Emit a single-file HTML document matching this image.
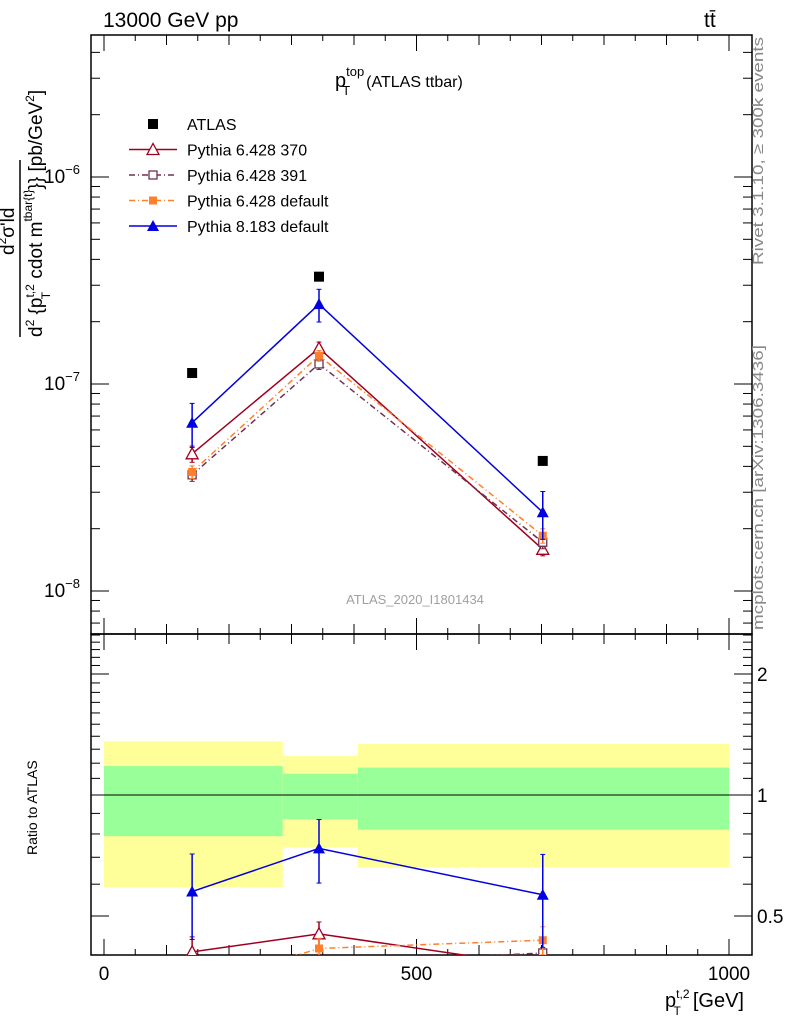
<!DOCTYPE html>
<html><head><meta charset="utf-8"><style>
body{margin:0;background:#fff;}
svg{font-family:"Liberation Sans",sans-serif;}
text{white-space:pre;}
</style></head><body>
<svg id="c" width="786" height="1024" viewBox="0 0 786 1024" xmlns="http://www.w3.org/2000/svg">
<defs>
<clipPath id="mainclip"><rect x="91" y="35" width="661" height="599"/></clipPath>
<clipPath id="ratioclip"><rect x="91" y="634" width="661" height="321"/></clipPath>
</defs>
<g id="bands" clip-path="url(#ratioclip)"></g>
<g id="frames"></g>
<g id="marks"></g>
<text x="103" y="27" font-size="21">13000 GeV pp</text>
<text x="704" y="27" font-size="21">tt̄</text>
<text x="335" y="87" font-size="20">p<tspan font-size="13" dy="-11">top</tspan><tspan font-size="13" dx="-22" dy="19">T</tspan><tspan font-size="16" dx="16" dy="-8">(ATLAS ttbar)</tspan></text>
<text x="415" y="604" font-size="13" fill="#a0a0a0" text-anchor="middle">ATLAS_2020_I1801434</text>
<text transform="translate(763,265) rotate(-90)" font-size="15" fill="#888" textLength="228" lengthAdjust="spacingAndGlyphs">Rivet 3.1.10, ≥ 300k events</text>
<text transform="translate(763,630) rotate(-90)" font-size="15" fill="#888" textLength="285" lengthAdjust="spacingAndGlyphs">mcplots.cern.ch [arXiv:1306.3436]</text>
<g>
<line x1="20" y1="337" x2="20" y2="160" stroke="#000" stroke-width="1.5"/>
<text transform="translate(14,255) rotate(-90)" font-size="19">d<tspan font-size="12" dy="-8">2</tspan><tspan dy="8">σ'ld</tspan></text>
<text transform="translate(42,337) rotate(-90)" font-size="19">d<tspan font-size="12" dy="-8">2</tspan><tspan dy="8"> {p</tspan><tspan font-size="12" dy="-8">t,2</tspan><tspan font-size="12" dx="-15" dy="16">T</tspan><tspan dx="8" dy="-8"> cdot m</tspan><tspan font-size="12" dy="-10">tbar{t}</tspan><tspan dy="10">}} [pb/GeV</tspan><tspan font-size="12" dy="-8">2</tspan><tspan dy="8">]</tspan></text>
</g>
<text transform="translate(37,855) rotate(-90)" font-size="14">Ratio to ATLAS</text>
<text x="744" y="1007" font-size="20" text-anchor="end">p<tspan font-size="12" dy="-9">t,2</tspan><tspan font-size="12" dx="-16" dy="17">T</tspan><tspan dx="12" dy="-8">[GeV]</tspan></text>
<g id="legend"></g>
</svg>
<script>
const binEdges=[0,286,406,1000];
const xCenters=[141,344,702];
const atlas=[1.13e-7,3.3e-7,4.25e-8];
const p6_370=[4.6e-8,1.49e-7,1.59e-8];
const p6_370err=[0.09,0.07,0.07];
const p6_391=[3.64e-8,1.25e-7,1.72e-8];
const p6_391err=[0.07,0.06,0.07];
const p6_def=[3.76e-8,1.37e-7,1.85e-8];
const p6_deferr=[0.07,0.06,0.08];
const p8=[6.5e-8,2.43e-7,2.4e-8];
const p8err=[0.24,0.18,0.26];
const yellowHi=[1.36,1.25,1.34];
const yellowLo=[0.59,0.74,0.66];
const greenHi=[1.18,1.13,1.17];
const greenLo=[0.79,0.87,0.82];
const xTicks=[0,500,1000];
const mainTicks=["10","10","10"];
const mainTickExp=[-6,-7,-8];
const ratioTicks=[2,1,0.5];

const NS="http://www.w3.org/2000/svg";
const X=v=>104+v*0.625;
const Y=v=>384-(Math.log10(v)+7)*207;
const R=v=>795-Math.log10(v)*402;
function mk(tag,attrs,parent){const e=document.createElementNS(NS,tag);for(const k in attrs)e.setAttribute(k,attrs[k]);parent.appendChild(e);return e;}
const svg=document.getElementById('c');
const bands=document.getElementById('bands'),frames=document.getElementById('frames'),marks=document.getElementById('marks'),legend=document.getElementById('legend');

for(let i=0;i<3;i++){
 const x0=X(binEdges[i]),x1=X(binEdges[i+1]);
 let r=mk('rect',{x:x0,y:R(yellowHi[i]),width:x1-x0,height:R(yellowLo[i])-R(yellowHi[i]),fill:'#ffff99'},bands);
 
 
 r=mk('rect',{x:x0,y:R(greenHi[i]),width:x1-x0,height:R(greenLo[i])-R(greenHi[i]),fill:'#99ff99'},bands);
 
 
}
let ln=mk('line',{x1:91,x2:752,y1:R(1),y2:R(1),stroke:'#000','stroke-width':1},bands);



[[35,634],[634,955]].forEach(([t,b],pi)=>{
 const f=mk('rect',{x:91,y:t,width:661,height:b-t,fill:'none',stroke:'#000','stroke-width':1.5},frames);
 
 
 for(let v=0;v<=1000;v+=50){
  const L=(v%500==0)?16:(v%100==0?10:6);
  mk('line',{x1:X(v),x2:X(v),y1:b,y2:b-L,stroke:'#000','stroke-width':1},frames);
  mk('line',{x1:X(v),x2:X(v),y1:t,y2:t+L,stroke:'#000','stroke-width':1},frames);
 }
});
xTicks.forEach(v=>{const t=mk('text',{x:X(v),y:980,'font-size':19,'text-anchor':'middle'},frames);t.textContent=v;
 
 });
for(let d=-9;d<=-5;d++)for(let m=1;m<10;m++){
 const y=Y(m*Math.pow(10,d));if(y<35||y>634)continue;
 const L=m==1?18:9;
 mk('line',{x1:91,x2:91+L,y1:y,y2:y,stroke:'#000'},frames);
 mk('line',{x1:752,x2:752-L,y1:y,y2:y,stroke:'#000'},frames);
}
mainTickExp.forEach((e,i)=>{const t=mk('text',{x:80,y:Y(Math.pow(10,e))+6,'font-size':19,'text-anchor':'end'},frames);
 t.innerHTML=mainTicks[i]+'<tspan font-size="13" dy="-9">−'+(-e)+'</tspan>';
 
 });
for(let v=0.4;v<2.6;v+=0.1){const y=R(v);if(y<634||y>955)continue;
 const major=Math.abs(v-1)<1e-6||Math.abs(v-2)<1e-6||Math.abs(v-0.5)<1e-6;const L=major?18:9;
 mk('line',{x1:91,x2:91+L,y1:y,y2:y,stroke:'#000'},frames);
 mk('line',{x1:752,x2:752-L,y1:y,y2:y,stroke:'#000'},frames);}
ratioTicks.forEach(v=>{const t=mk('text',{x:757,y:R(v)+7,'font-size':19},frames);t.textContent=v;
 
 });

function marker(g,type,x,y,col,s){
 if(type=='sq')mk('rect',{x:x-s,y:y-s,width:2*s,height:2*s,fill:col},g);
 else if(type=='osq')mk('rect',{x:x-s,y:y-s,width:2*s,height:2*s,fill:'#fff',stroke:col,'stroke-width':1.3},g);
 else if(type=='otri')mk('polygon',{points:`${x},${y-s-1} ${x-s-1},${y+s} ${x+s+1},${y+s}`,fill:'#fff',stroke:col,'stroke-width':1.3},g);
 else mk('polygon',{points:`${x},${y-s-1} ${x-s-1},${y+s} ${x+s+1},${y+s}`,fill:col},g);
}
const series=[
 {name:'p6-370',vals:p6_370,err:p6_370err,col:'#a00020',dash:'',m:'otri'},
 {name:'p6-391',vals:p6_391,err:p6_391err,col:'#703050',dash:'6,3,1,3',m:'osq'},
 {name:'p6-default',vals:p6_def,err:p6_deferr,col:'#ff7f2a',dash:'6,3,1,3',m:'sq'},
 {name:'p8-default',vals:p8,err:p8err,col:'#0000e0',dash:'',m:'tri'}];
[['main',Y,'mainclip'],['ratio',R,'ratioclip']].forEach(([pn,YF,clip])=>{
 const isR=pn=='ratio';
 series.forEach(s=>{
  const g=mk('g',{'clip-path':`url(#${clip})`},marks);
  
  
  const val=i=>isR?s.vals[i]/atlas[i]:s.vals[i];
  const pts=xCenters.map((x,i)=>X(x)+','+YF(val(i))).join(' ');
  mk('polyline',{points:pts,fill:'none',stroke:s.col,'stroke-width':1.5,'stroke-dasharray':s.dash},g);
  xCenters.forEach((x,i)=>{const v=val(i),e=s.err[i];
   mk('line',{x1:X(x),x2:X(x),y1:YF(v*(1+e)),y2:YF(v*(1-e)),stroke:s.col,'stroke-width':1.5},g);
   [v*(1+e),v*(1-e)].forEach(w=>mk('line',{x1:X(x)-2.5,x2:X(x)+2.5,y1:YF(w),y2:YF(w),stroke:s.col},g));
   marker(g,s.m,X(x),YF(v),s.col,s.m.includes('sq')?4:5);});
 });
});
const ga=mk('g',{},marks);


xCenters.forEach((x,i)=>marker(ga,'sq',X(x),Y(atlas[i]),'#000',5));

const leg=[['ATLAS','#000','','sq',true],['Pythia 6.428 370','#a00020','','otri'],['Pythia 6.428 391','#703050','6,3,1,3','osq'],['Pythia 6.428 default','#ff7f2a','6,3,1,3','sq'],['Pythia 8.183 default','#0000e0','','tri']];
leg.forEach((l,i)=>{const y=124+i*25.5;const g=mk('g',{},legend);
 
 
 if(!l[4])mk('line',{x1:129,x2:177,y1:y,y2:y,stroke:l[1],'stroke-width':1.5,'stroke-dasharray':l[2]},g);
 marker(g,l[3],153,y,l[1],l[3].includes('sq')?(l[4]?5:4):5);
 const t=mk('text',{x:187,y:y+6,'font-size':16},g);t.textContent=l[0];});
</script>
</body></html>
